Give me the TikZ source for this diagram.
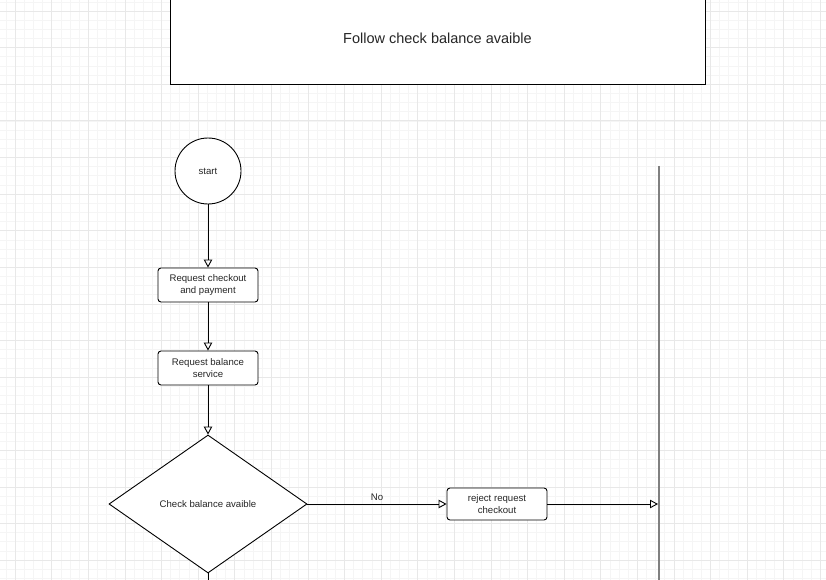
\documentclass[tikz,border=0pt]{standalone}
\usepackage{fontspec}
\setmainfont{Liberation Sans}
\usetikzlibrary{arrows.meta,shapes.geometric}

\begin{document}
\begin{tikzpicture}[x=1pt,y={(0,-1pt)},
    minorgrid/.style={draw=black!4,line width=0.5pt},
    majorgrid/.style={draw=black!9,line width=0.6pt},
    flowbox/.style={rectangle,rounded corners=3pt,draw,line width=0.9pt,fill=white,
      minimum width=100pt,align=center,font=\fontsize{9.6}{12}\selectfont,text=black!85},
    flowline/.style={-{Triangle[open,length=8pt,width=8.5pt]},line width=0.9pt}]
        \useasboundingbox (0,0) rectangle (826,580);
        \clip (0,0) rectangle (826,580);
        \fill[white] (0,0) rectangle (826,580);
        % grid
        \foreach \k in {-1,...,90} \draw[minorgrid] ({15+9.15*\k},0) -- ++(0,580);
        \foreach \k in {-2,...,63} \draw[minorgrid] (0,{11+9.15*\k}) -- ++(826,0);
        \foreach \k in {0,...,22} \draw[majorgrid] ({15+36.6*\k},0) -- ++(0,580);
        \foreach \k in {0,...,15} \draw[majorgrid] (0,{11+36.6*\k}) -- ++(826,0);

        \node [rectangle,draw,line width=0.9pt,fill=white,minimum width=535pt,minimum height=92pt,
          font=\fontsize{14.5}{17}\selectfont,text=black!85] (title) at (437.5,38) {Follow check balance avaible};
        \node [circle,draw,line width=0.9pt,fill=white,minimum size=66pt,inner sep=0pt,
          font=\fontsize{9.6}{12}\selectfont,text=black!85] (start) at (208,171) {start};
        \node [flowbox,minimum height=34pt] (req1) at (208,285) {Request checkout\\and payment};
        \node [flowbox,minimum height=34pt] (req2) at (208,368) {Request balance\\service};
        \node [diamond,draw,line width=0.9pt,fill=white,minimum width=198pt,minimum height=138pt,
          inner sep=0pt,aspect=1.43,font=\fontsize{9.6}{12}\selectfont,text=black!85] (check) at (208,504) {Check balance avaible};
        \node [flowbox,minimum height=32pt] (reject) at (497,504) {reject request\\checkout};

        \coordinate (lane1top) at (659,166);
        \coordinate (lane1bot) at (659,582);
        \coordinate (lane1in) at (659,504);
        \coordinate (yesout) at (208,588);
        \draw[black!50,line width=2pt] (lane1top) -- (lane1bot);

        \draw[flowline] (start.south) -- (req1.north);
        \draw[flowline] (req1.south) -- (req2.north);
        \draw[flowline] (req2.south) -- (check.north);
        \draw[line width=0.9pt] (check.south) -- (yesout);
        \draw[flowline] (check.east) -- node[above,font=\fontsize{9.6}{12}\selectfont,text=black!85] {No} (reject.west);
        \draw[flowline] (reject.east) -- ([xshift=-1pt]lane1in);
      \end{tikzpicture}
\end{document}
